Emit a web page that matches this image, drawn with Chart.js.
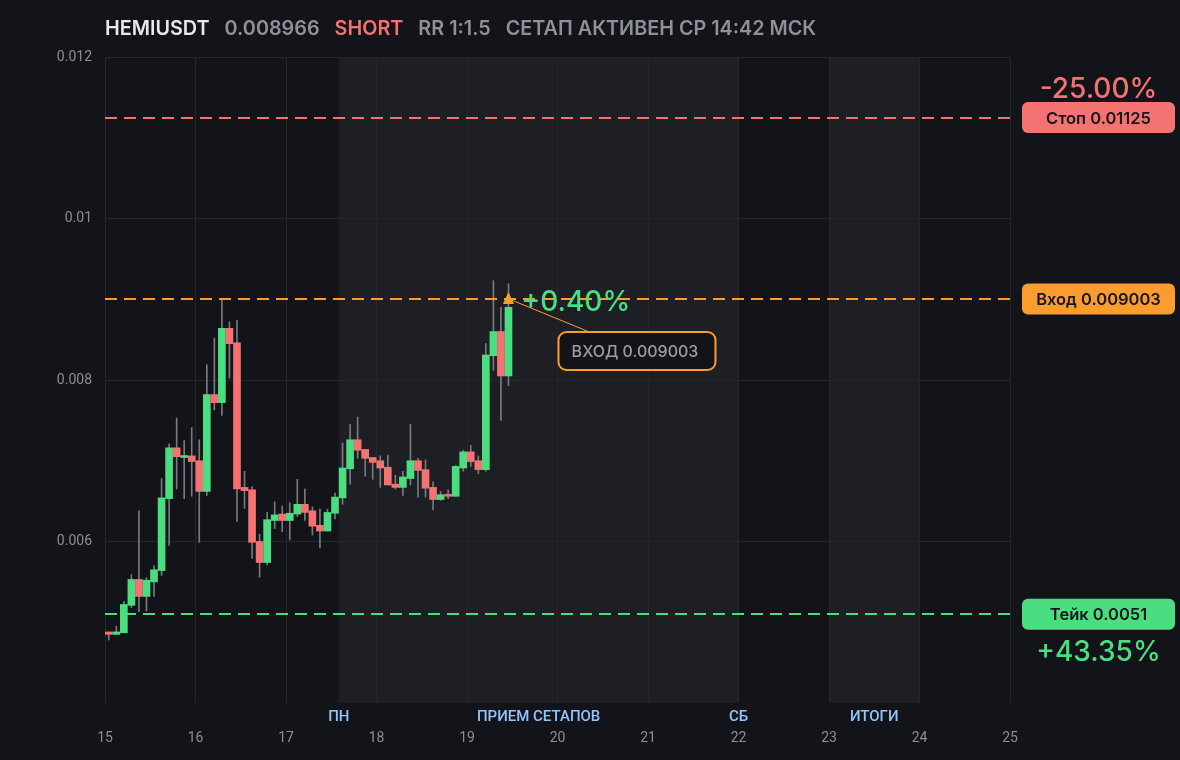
<!DOCTYPE html>
<html>
<head>
<meta charset="utf-8">
<script src="https://cdn.jsdelivr.net/npm/chart.js@4"></script>
<style>
  html, body { margin: 0; padding: 0; background: #131419; }
  #wrap { width: 1180px; height: 760px; }
</style>
</head>
<body>
<div id="wrap"><canvas id="chart"></canvas></div>
<script>
// 2h candles starting on the 15th
const startDay = 15;
const candleHours = 2;

const opens  = [0.00488,0.00485,0.00487,0.00521,0.00553,0.00532,0.00550,0.00564,0.00653,0.00716,
                0.00704,0.00706,0.00700,0.00662,0.00782,0.00772,0.00864,0.00846,0.00667,0.00664,
                0.00600,0.00574,0.00626,0.00634,0.00626,0.00634,0.00646,0.00638,0.00620,0.00613,
                0.00635,0.00654,0.00690,0.00726,0.00714,0.00704,0.00700,0.00692,0.00671,0.00667,
                0.00678,0.00700,0.00689,0.00667,0.00652,0.00658,0.00656,0.00691,0.00711,0.00700,
                0.00689,0.00830,0.00860,0.00805];
const highs  = [0.00488,0.00495,0.00526,0.00559,0.00638,0.00555,0.00570,0.00678,0.00721,0.00753,
                0.00725,0.00741,0.00726,0.00819,0.00852,0.00899,0.00872,0.00874,0.00687,0.00668,
                0.00609,0.00636,0.00649,0.00644,0.00648,0.00677,0.00665,0.00643,0.00640,0.00640,
                0.00660,0.00722,0.00745,0.00754,0.00714,0.00704,0.00706,0.00707,0.00682,0.00687,
                0.00745,0.00703,0.00701,0.00674,0.00662,0.00664,0.00694,0.00713,0.00719,0.00706,
                0.00845,0.00923,0.00890,0.00919];
const lows   = [0.00478,0.00485,0.00487,0.00518,0.00513,0.00514,0.00532,0.00558,0.00595,0.00665,
                0.00653,0.00656,0.00599,0.00657,0.00763,0.00756,0.00802,0.00625,0.00641,0.00579,
                0.00556,0.00571,0.00616,0.00612,0.00602,0.00631,0.00626,0.00608,0.00592,0.00613,
                0.00628,0.00646,0.00671,0.00703,0.00681,0.00677,0.00667,0.00670,0.00665,0.00657,
                0.00670,0.00655,0.00655,0.00639,0.00651,0.00653,0.00656,0.00687,0.00693,0.00684,
                0.00687,0.00812,0.00750,0.00793];
const closes = [0.00485,0.00488,0.00522,0.00553,0.00532,0.00552,0.00565,0.00654,0.00716,0.00705,
                0.00706,0.00699,0.00662,0.00782,0.00772,0.00864,0.00845,0.00665,0.00663,0.00599,
                0.00574,0.00627,0.00633,0.00626,0.00635,0.00646,0.00636,0.00619,0.00613,0.00636,
                0.00655,0.00691,0.00726,0.00713,0.00703,0.00698,0.00691,0.00670,0.00667,0.00680,
                0.00700,0.00688,0.00666,0.00652,0.00658,0.00656,0.00693,0.00711,0.00699,0.00689,
                0.00831,0.00860,0.00805,0.00890];

const dayTicks = [15, 16, 17, 18, 19, 20, 21, 22, 23, 24, 25];
const priceTicks = [0.006, 0.008, 0.01, 0.012];

// trade levels
const stopPrice = 0.01125;
const entryPrice = 0.009003;
const takePrice = 0.0051;
const stopText = 'Стоп 0.01125';
const entryText = 'Вход 0.009003';
const takeText = 'Тейк 0.0051';
const stopPct = '-25.00%';
const takePct = '+43.35%';
const livePct = '+0.40%';
const entryNote = 'ВХОД 0.009003';

// sessions (shaded) and labels under the axis
const sessions = [[17 + 14 / 24, 22], [23, 24]];
const sessionLabels = [
  { at: 17 + 14 / 24, text: 'ПН' },
  { at: (17 + 14 / 24 + 22) / 2, text: 'ПРИЕМ СЕТАПОВ' },
  { at: 22, text: 'СБ' },
  { at: 23.5, text: 'ИТОГИ' }
];

const titleParts = [
  { text: 'HEMIUSDT', color: '#e8e9ec' },
  { text: '0.008966', color: '#8e9199' },
  { text: 'SHORT', color: '#f47272' },
  { text: 'RR 1:1.5', color: '#8e9199' },
  { text: 'СЕТАП АКТИВЕН СР 14:42 МСК', color: '#8e9199' }
];

const GREEN = '#4ade80';
const RED = '#f47272';
const ORANGE = '#fb9c2f';
const BLUE = '#93c5fd';
const BG = '#131419';

const times = opens.map((_, i) => startDay + (i * candleHours + candleHours / 2) / 24);
const bodies = opens.map((o, i) => ({ x: times[i], y: [o, closes[i]] }));
const wicks = opens.map((o, i) => ({ x: times[i], y: [lows[i], highs[i]] }));
const bodyColors = opens.map((o, i) => closes[i] >= o ? GREEN : RED);

function roundRect(ctx, x, y, w, h, r) {
  ctx.beginPath();
  ctx.moveTo(x + r, y);
  ctx.arcTo(x + w, y, x + w, y + h, r);
  ctx.arcTo(x + w, y + h, x, y + h, r);
  ctx.arcTo(x, y + h, x, y, r);
  ctx.arcTo(x, y, x + w, y, r);
  ctx.closePath();
}

const overlay = {
  id: 'overlay',
  beforeDraw(chart) {
    const { ctx, chartArea: a, scales: { x } } = chart;
    ctx.save();
    ctx.fillStyle = BG;
    ctx.fillRect(0, 0, chart.width, chart.height);
    ctx.fillStyle = '#1e1f24';
    sessions.forEach(([s, e]) => {
      const x0 = x.getPixelForValue(s);
      const x1 = x.getPixelForValue(e);
      ctx.fillRect(x0, a.top, x1 - x0, a.bottom - a.top);
    });
    ctx.restore();
  },
  afterDatasetsDraw(chart) {
    const { ctx, chartArea: a, scales: { x, y } } = chart;
    ctx.save();
    // dashed levels
    ctx.lineWidth = 2;
    ctx.setLineDash([12, 7]);
    [[stopPrice, RED], [entryPrice, ORANGE], [takePrice, GREEN]].forEach(([p, c]) => {
      const py = Math.round(y.getPixelForValue(p));
      ctx.strokeStyle = c;
      ctx.beginPath();
      ctx.moveTo(a.left, py);
      ctx.lineTo(a.right, py);
      ctx.stroke();
    });
    ctx.setLineDash([]);

    // entry marker on the last candle
    const mx = x.getPixelForValue(times[times.length - 1]);
    const my = y.getPixelForValue(entryPrice);
    const bx = mx + 50, by = my + 33, bw = 157, bh = 38;
    ctx.strokeStyle = ORANGE;
    ctx.lineWidth = 1;
    ctx.beginPath();
    ctx.moveTo(mx + 3, my + 1);
    ctx.lineTo(bx + 31, by);
    ctx.stroke();

    ctx.fillStyle = ORANGE;
    ctx.beginPath();
    ctx.moveTo(mx, my - 7);
    ctx.lineTo(mx + 5.5, my + 5);
    ctx.lineTo(mx - 5.5, my + 5);
    ctx.closePath();
    ctx.fill();

    ctx.font = '500 28px Inter';
    ctx.fillStyle = GREEN;
    ctx.textAlign = 'left';
    ctx.textBaseline = 'middle';
    ctx.fillText(livePct, mx + 13, my + 4);

    roundRect(ctx, bx, by, bw, bh, 8);
    ctx.fillStyle = BG;
    ctx.fill();
    ctx.lineWidth = 2;
    ctx.strokeStyle = ORANGE;
    ctx.stroke();
    ctx.font = '500 16px Inter';
    ctx.fillStyle = '#9a9da5';
    ctx.textAlign = 'center';
    ctx.fillText(entryNote, bx + bw / 2 - 2, by + bh / 2 + 1);
    ctx.restore();
  },
  afterDraw(chart) {
    const { ctx, chartArea: a, scales: { x, y } } = chart;
    ctx.save();
    // title
    ctx.font = '600 19.8px Inter';
    ctx.textBaseline = 'middle';
    ctx.textAlign = 'left';
    let tx = a.left;
    titleParts.forEach(p => {
      ctx.fillStyle = p.color;
      ctx.fillText(p.text, tx, 29.5);
      tx += ctx.measureText(p.text).width + 15;
    });

    // right side level tags
    const lx = a.right + 12, lw = 153, lh = 31;
    const cx = lx + lw / 2;
    [[stopPrice, RED, stopText], [entryPrice, ORANGE, entryText], [takePrice, GREEN, takeText]].forEach(([p, c, t]) => {
      const py = y.getPixelForValue(p);
      roundRect(ctx, lx, py - lh / 2, lw, lh, 6);
      ctx.fillStyle = c;
      ctx.fill();
      ctx.fillStyle = '#17181c';
      ctx.font = '600 16.5px Inter';
      ctx.textAlign = 'center';
      ctx.fillText(t, cx, py + 1);
    });
    ctx.font = '500 28px Inter';
    ctx.fillStyle = RED;
    ctx.fillText(stopPct, cx, y.getPixelForValue(stopPrice) - 28);
    ctx.fillStyle = GREEN;
    ctx.fillText(takePct, cx, y.getPixelForValue(takePrice) + 38);

    // session labels
    ctx.font = '500 15px Roboto';
    ctx.fillStyle = BLUE;
    sessionLabels.forEach(l => {
      ctx.fillText(l.text, x.getPixelForValue(l.at), a.bottom + 14);
    });
    ctx.restore();
  }
};

new Chart(document.getElementById('chart'), {
  type: 'bar',
  data: {
    datasets: [
      {
        label: 'body',
        data: bodies,
        backgroundColor: bodyColors,
        barThickness: 7,
        minBarLength: 2,
        grouped: false,
        order: 0
      },
      {
        label: 'wick',
        data: wicks,
        backgroundColor: '#777a82',
        barThickness: 1,
        grouped: false,
        order: 1
      }
    ]
  },
  options: {
    responsive: true,
    maintainAspectRatio: false,
    animation: false,
    layout: { padding: { top: 57, right: 170, left: 0, bottom: 0 } },
    plugins: { legend: { display: false }, tooltip: { enabled: false } },
    scales: {
      x: {
        type: 'linear',
        min: 15,
        max: 25,
        offset: false,
        afterBuildTicks: s => { s.ticks = dayTicks.map(v => ({ value: v })); },
        afterFit: s => { s.height = 57; },
        grid: { color: '#25262c', offset: false, drawTicks: false },
        border: { display: false },
        ticks: { color: '#8b8e96', font: { family: 'Roboto', size: 14 }, padding: 27, maxRotation: 0 }
      },
      y: {
        min: 0.004,
        max: 0.012,
        afterBuildTicks: s => { s.ticks = priceTicks.map(v => ({ value: v })); },
        afterFit: s => { s.width = 105; },
        grid: { color: '#25262c', drawTicks: false },
        border: { display: false },
        ticks: {
          color: '#8b8e96',
          font: { family: 'Roboto', size: 14 },
          padding: 13,
          callback: v => String(Number(v.toFixed(4)))
        }
      }
    }
  },
  plugins: [overlay]
});
</script>
</body>
</html>
